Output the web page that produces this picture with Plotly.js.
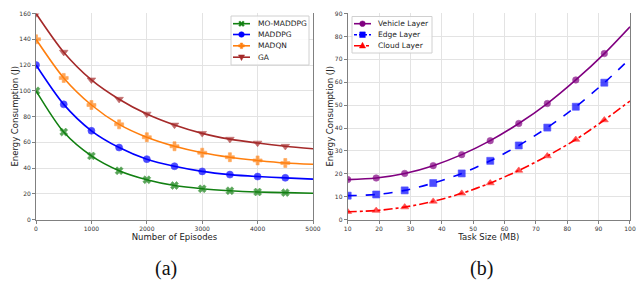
<!DOCTYPE html>
<html><head><meta charset="utf-8">
<script src="https://cdn.plot.ly/plotly-3.0.1.min.js"></script>
<style>html,body{margin:0;padding:0;background:#fff}#c{width:641px;height:281px}</style>
</head><body><div id="c"></div>
<script>
// Panel (a): energy vs episodes
const episodes = [0,500,1000,1500,2000,2500,3000,3500,4000,4500,5000];
const moMaddpg = [100,68,49.5,38,31,26.5,24,22.5,21.5,21,20.5];
const maddpg   = [120,89.5,69,56,47,41.5,37.5,35,33.5,32.5,31.5];
const madqn    = [140,110,89,74,64,57,52,48.5,46,44,43];
const ga       = [160,130,108.5,93.5,82,73.5,67,62.5,59.5,57,55];
const namesA   = ['MO-MADDPG','MADDPG','MADQN','GA'];
// Panel (b): energy vs task size
const taskSize = [10,19.09,28.18,37.27,46.36,55.45,64.55,73.64,82.73,91.82,100];
const vehicle  = [17.5,18.2,20.2,23.6,28.4,34.5,42,50.7,61,72.5,84.2];
const edge     = [10.5,11,12.8,16,20.2,25.7,32.4,40.2,49.3,59.8,70.3];
const cloud    = [3.5,4,5.5,8,11.5,16,21.5,27.8,35,43.5,51.8];
const namesB   = ['Vehicle Layer','Edge Layer','Cloud Layer'];

const W = 641, H = 281;
const X = p => p / W, Y = p => 1 - p / H;

function msize(n, s){ const a = []; for(let i=0;i<n;i++) a.push(i===n-1?0:s); return a; }
function tr(x,y,name,color,symbol,dash,xa,ya,ms){
  return {x:x,y:y,name:name,type:'scatter',mode:'lines+markers',xaxis:xa,yaxis:ya,showlegend:false,
    line:{color:color,width:1.6,shape:'spline',smoothing:0.8,dash:dash},
    marker:{color:color,symbol:symbol,size:msize(x.length,ms),line:{color:color,width:0.6}}};
}
const styA = [
  {c:'#128012',s:'x',d:'solid',m:7},
  {c:'#0000ff',s:'circle',d:'solid',m:7},
  {c:'#ff7f0e',s:'cross',d:'solid',m:7.5},
  {c:'#a52a2a',s:'triangle-down',d:'solid',m:7.5}
];
const styB = [
  {c:'#800080',s:'circle',d:'solid',m:6.5},
  {c:'#0000ff',s:'square',d:'dash',m:7},
  {c:'#ff0000',s:'triangle-up',d:'dashdot',m:7}
];
const seriesA = [moMaddpg,maddpg,madqn,ga];
const seriesB = [vehicle,edge,cloud];
const data = [];
seriesA.forEach((s,i)=>data.push(tr(episodes,s,namesA[i],styA[i].c,styA[i].s,styA[i].d,'x','y',styA[i].m)));
seriesB.forEach((s,i)=>data.push(tr(taskSize,s,namesB[i],styB[i].c,styB[i].s,styB[i].d,'x2','y2',styB[i].m)));

// ---- hand-built legends (layout decoration) ----
const shapes = [], annotations = [];
function pathFor(sym, cx, cy, r){
  const P = pts => 'M' + pts.map(p=>X(cx+p[0])+','+Y(cy+p[1])).join('L') + 'Z';
  if(sym==='square') return P([[-r,-r],[r,-r],[r,r],[-r,r]]);
  if(sym==='triangle-up') return P([[0,-r*1.2],[r*1.1,r*0.8],[-r*1.1,r*0.8]]);
  if(sym==='triangle-down') return P([[0,r*1.2],[r*1.1,-r*0.8],[-r*1.1,-r*0.8]]);
  if(sym==='cross'){ const a=r*0.4; return P([[-a,-r],[a,-r],[a,-a],[r,-a],[r,a],[a,a],[a,r],[-a,r],[-a,a],[-r,a],[-r,-a],[-a,-a]]); }
  if(sym==='x'){ const a=r*0.45; return P([[-r,-r+a],[-r+a,-r],[0,-a],[r-a,-r],[r,-r+a],[a,0],[r,r-a],[r-a,r],[0,a],[-r+a,r],[-r,r-a],[-a,0]]); }
}
function legendBox(x0,y0,x1,y1,names,sty,rows,lx0,lx1,mx,tx,fs){
  shapes.push({type:'rect',xref:'paper',yref:'paper',x0:X(x0),x1:X(x1),y0:Y(y1),y1:Y(y0),
    fillcolor:'rgba(255,255,255,0.85)',line:{color:'#d0d0d0',width:1},layer:'above'});
  names.forEach((n,i)=>{
    const cy = rows[i], st = sty[i];
    shapes.push({type:'line',xref:'paper',yref:'paper',x0:X(lx0),x1:X(lx1),y0:Y(cy),y1:Y(cy),
      line:{color:st.c,width:1.6,dash:st.d==='dashdot'?'dashdot':(st.d==='dash'?'3px,2px':'solid')},layer:'above'});
    const r = 2.8;
    if(st.s==='circle'){
      shapes.push({type:'circle',xref:'paper',yref:'paper',x0:X(mx-r),x1:X(mx+r),y0:Y(cy+r),y1:Y(cy-r),
        fillcolor:st.c,line:{color:st.c,width:0.5},layer:'above'});
    } else {
      shapes.push({type:'path',xref:'paper',yref:'paper',path:pathFor(st.s,mx,cy,r),
        fillcolor:st.c,line:{color:st.c,width:0.5},layer:'above'});
    }
    annotations.push({text:n,xref:'paper',yref:'paper',x:X(tx),y:Y(cy),xanchor:'left',yanchor:'middle',
      showarrow:false,font:{family:'DejaVu Sans',size:fs,color:'#222'}});
  });
}
legendBox(231,16,309,65,namesA,styA,[23.7,34.5,45.8,57.2],233,250,241.5,255.5,7.5);
legendBox(352,16.5,432,53,namesB,styB,[23.7,34.7,45.7],354,371,362.5,376.5,7.5);

const capf = {family:'Liberation Serif',size:20,color:'#111'};
annotations.push({text:'(a)',xref:'paper',yref:'paper',x:X(166),y:Y(268),xanchor:'center',yanchor:'middle',
  showarrow:false,borderpad:0,font:capf});
annotations.push({text:'(b)',xref:'paper',yref:'paper',x:X(481),y:Y(268),xanchor:'center',yanchor:'middle',
  showarrow:false,borderpad:0,font:capf});

const titf = {family:'DejaVu Sans',size:8.5,color:'#222'};
annotations.push({text:'Energy Consumption (J)',xref:'paper',yref:'paper',x:X(15),y:Y(116.6),textangle:-90,
  xanchor:'center',yanchor:'middle',showarrow:false,font:titf});
annotations.push({text:'Energy Consumption (J)',xref:'paper',yref:'paper',x:X(330),y:Y(116.6),textangle:-90,
  xanchor:'center',yanchor:'middle',showarrow:false,font:titf});

const tickf = {family:'DejaVu Sans',size:6,color:'#333'};
function ax(extra){
  return Object.assign({showgrid:true,gridcolor:'#e3e3e3',gridwidth:1,zeroline:false,showline:true,
    linecolor:'#808080',linewidth:1,ticks:'outside',ticklen:3,tickcolor:'#808080',tickfont:tickf},extra);
}
const yd = [0.2181,0.952];
const layout = {
  width:W,height:H,margin:{l:0,r:0,t:0,b:0},paper_bgcolor:'#fff',plot_bgcolor:'#fff',
  showlegend:false,
  xaxis:ax({domain:[0.0562,0.4883],range:[0,5000],tickvals:[0,1000,2000,3000,4000,5000],anchor:'y',
    title:{text:'Number of Episodes',font:titf,standoff:2}}),
  yaxis:ax({domain:yd,range:[0,160],dtick:20,anchor:'x',mirror:true}),
  xaxis2:ax({domain:[0.5424,0.9828],range:[10,100],dtick:10,anchor:'y2',
    title:{text:'Task Size (MB)',font:titf,standoff:2}}),
  yaxis2:ax({domain:yd,range:[0,90],dtick:10,anchor:'x2',mirror:true}),
  shapes:shapes,
  annotations:annotations
};
Plotly.newPlot('c',data,layout,{staticPlot:true});
</script></body></html>
